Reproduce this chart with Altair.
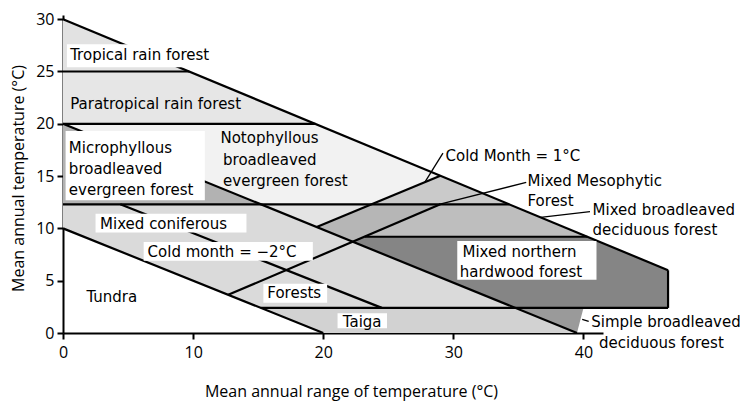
import altair as alt
import pandas as pd

# ---------------- data ----------------
# Region polygons: x = mean annual range of temperature, y = mean annual temperature
region_names = [
    "Mixed coniferous", "Tropical rain forest", "Paratropical rain forest",
    "Notophyllous", "Microphyllous", "Notophyllous lower", "Transition",
    "Mixed Mesophytic", "Mixed broadleaved deciduous", "Mixed northern hardwood",
    "Taiga", "Simple broadleaved deciduous",
]
region_xs = [
    [0, 15.2, 34.8, 15.2, 0],
    [0, 9.7, 0],
    [0, 9.7, 19.4, 0],
    [0, 19.4, 29.0, 23.7, 15.2],
    [0, 15.2, 0],
    [15.2, 23.7, 19.5],
    [19.5, 23.7, 29.0, 22.3],
    [23.7, 29.0, 34.3],
    [23.2, 29.0, 34.3, 40.3],
    [22.3, 23.2, 40.3, 46.5, 46.5, 34.8],
    [15.2, 34.8, 39.5, 20.0],
    [34.8, 40.0, 39.5],
]
region_ys = [
    [12.3, 12.3, 2.4, 2.4, 10],
    [30, 25, 25],
    [25, 25, 20, 20],
    [20, 20, 15.04, 12.3, 12.3],
    [20, 12.3, 12.3],
    [12.3, 12.3, 10.13],
    [10.13, 12.3, 12.3, 8.73],
    [12.3, 15.04, 12.3],
    [9.2, 12.3, 12.3, 9.2],
    [8.73, 9.2, 9.2, 6.0, 2.4, 2.4],
    [2.4, 2.4, 0, 0],
    [2.4, 2.4, 0],
]
region_colors = [
    "#dadada", "#e2e2e2", "#e6e6e6", "#f2f2f2", "#b2b2b2", "#e4e4e4",
    "#b6b6b6", "#cacaca", "#bebebe", "#858585", "#d2d2d2", "#9a9a9a",
]

# Boundary lines (start x, start y, end x, end y)
seg_x1 = [0, 46.5, 0, 0, 0, 0, 0, 23.2, 15.2, 12.7, 19.5, 4.4]
seg_y1 = [30, 6.0, 25, 20, 20, 10, 12.3, 9.2, 2.4, 3.65, 10.13, 12.3]
seg_x2 = [46.5, 46.5, 9.7, 19.4, 39.5, 20, 34.3, 40.3, 46.5, 29.0, 29.0, 24.5]
seg_y2 = [6.0, 2.4, 25, 20, 0, 0, 12.3, 9.2, 2.4, 12.3, 15.04, 2.4]

# Label pointer lines
ptr_x1 = [29.2, 35.6, 40.5, 40.4]
ptr_y1 = [17.2, 14.4, 11.6, 1.1]
ptr_x2 = [27.8, 28.9, 36.7, 39.9]
ptr_y2 = [14.4, 12.3, 11.05, 1.3]

# White boxes behind some labels (x1, x2, y1, y2)
box_x1 = [0.3, 0.2, 2.5, 6.2, 15.4, 21.1, 30.3]
box_x2 = [12.3, 10.9, 14.1, 19.2, 20.3, 24.9, 41.0]
box_y1 = [25.4, 12.7, 9.6, 6.9, 2.9, 0.45, 5.1]
box_y2 = [27.6, 19.3, 11.4, 8.7, 4.7, 1.9, 8.8]

# Text labels (y = text baseline)
label_text = [
    "Tropical rain forest", "Paratropical rain forest",
    "Microphyllous", "broadleaved", "evergreen forest",
    "Notophyllous", "broadleaved", "evergreen forest",
    "Cold Month = 1°C", "Mixed Mesophytic", "Forest",
    "Mixed broadleaved", "deciduous forest",
    "Mixed northern", "hardwood forest",
    "Mixed coniferous", "Cold month = \u22122°C", "Forests", "Tundra", "Taiga",
    "Simple broadleaved", "deciduous forest",
]
label_x = [0.55, 0.55, 0.45, 0.45, 0.45, 12.1, 12.3, 12.3, 29.4, 35.7, 35.7,
           40.7, 40.7, 30.7, 30.5, 2.85, 6.5, 15.7, 1.8, 21.5, 40.6, 41.2]
label_y = [26.14, 21.37, 17.24, 15.2, 13.18, 18.15, 16.1, 14.05, 16.46, 14.1, 12.1,
           11.27, 9.36, 7.29, 5.38, 9.9, 7.29, 3.31, 2.99, 0.6, 0.6, -1.46]

x_ticks = [0, 10, 20, 30, 40]
y_ticks = [0, 5, 10, 15, 20, 25, 30]

# ---------------- build tables ----------------
rows = []
for name, xs, ys in zip(region_names, region_xs, region_ys):
    for i, (xv, yv) in enumerate(zip(xs, ys)):
        rows.append({"region": name, "i": i, "x": xv, "y": yv})
poly_df = pd.DataFrame(rows)
seg_df = pd.DataFrame({"x": seg_x1, "y": seg_y1, "x2": seg_x2, "y2": seg_y2})
ptr_df = pd.DataFrame({"x": ptr_x1, "y": ptr_y1, "x2": ptr_x2, "y2": ptr_y2})
box_df = pd.DataFrame({"x": box_x1, "x2": box_x2, "y": box_y1, "y2": box_y2})
lab_df = pd.DataFrame({"t": label_text, "x": label_x, "y": label_y})

AXFONT = "Open Sans"
LBFONT = "DejaVu Sans"
xs_ = alt.Scale(domain=[0, 41.5], nice=False, zero=False)
ys_ = alt.Scale(domain=[0, 30.4], nice=False, zero=False)

common = dict(grid=False, tickSize=6, tickWidth=2, domainWidth=2,
              domainColor="black", tickColor="black", labelColor="black",
              titleColor="black", labelFont=AXFONT, titleFont=AXFONT,
              labelFontSize=16, titleFontSize=16, titleFontWeight="normal")
xaxis = alt.Axis(values=x_ticks, title="Mean annual range of temperature (°C)",
                 labelFlush=False, labelPadding=5,
                 titleX=288, titleY=63, titleBaseline="alphabetic", **common)
yaxis = alt.Axis(values=y_ticks, title="Mean annual temperature (°C)",
                 labelPadding=3, titleX=-45, titleY=163, titleBaseline="middle",
                 titleAngle=-90, **common)

polys = alt.Chart(poly_df).mark_line(filled=True, strokeWidth=0).encode(
    x=alt.X("x:Q", scale=xs_, axis=xaxis),
    y=alt.Y("y:Q", scale=ys_, axis=yaxis),
    color=alt.Color("region:N", scale=alt.Scale(domain=region_names, range=region_colors),
                    legend=None),
    detail="region:N",
    order="i:Q",
)

segs = alt.Chart(seg_df).mark_rule(color="black", strokeWidth=2.2).encode(
    x="x:Q", y="y:Q", x2="x2:Q", y2="y2:Q")

boxes = alt.Chart(box_df).mark_rect(color="white").encode(
    x="x:Q", x2="x2:Q", y="y:Q", y2="y2:Q")

texts = alt.Chart(lab_df).mark_text(align="left", baseline="alphabetic", font=LBFONT,
                                    fontSize=15, color="black").encode(
    x="x:Q", y="y:Q", text="t:N")

ptrs = alt.Chart(ptr_df).mark_rule(color="black", strokeWidth=1.3).encode(
    x="x:Q", y="y:Q", x2="x2:Q", y2="y2:Q")

chart = alt.layer(polys, segs, boxes, texts, ptrs).properties(
    width=540, height=318,
    autosize=alt.AutoSizeParams(type="none"),
    padding={"left": 55, "top": 7, "right": 137, "bottom": 68},
    background="white",
).configure_view(stroke=None)

chart.save("out.html", embed_options={"renderer": "svg", "actions": False})
